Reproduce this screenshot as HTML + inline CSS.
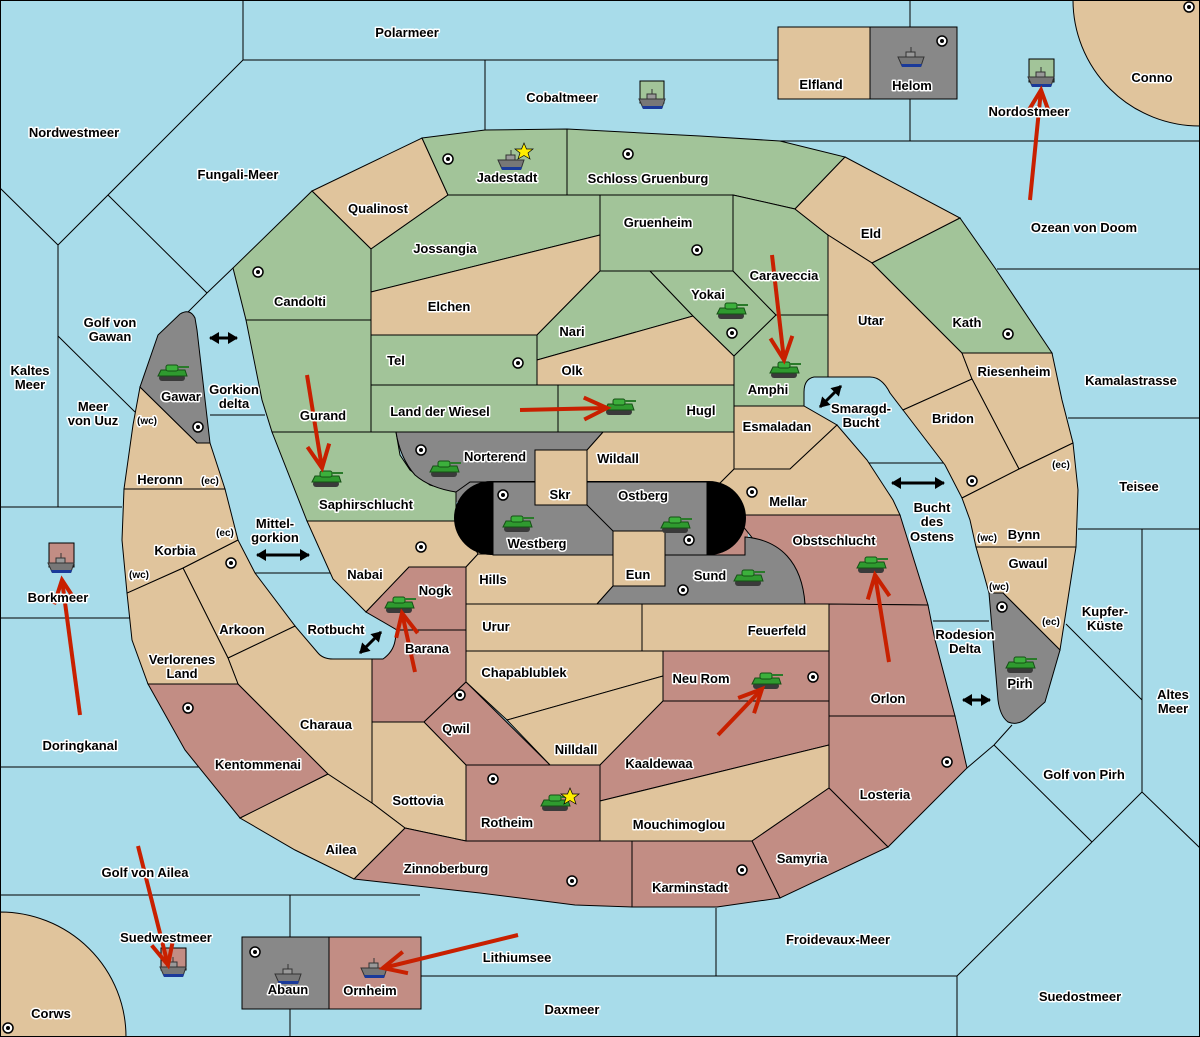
<!DOCTYPE html>
<html><head><meta charset="utf-8"><style>
html,body{margin:0;padding:0;background:#a8dcea}
svg{display:block}
text{font-family:"Liberation Sans",sans-serif;font-weight:bold;font-size:13px;fill:#000;stroke:#fff;stroke-width:3px;paint-order:stroke;stroke-linejoin:round;text-anchor:middle}
text.s{font-size:10px}
.t{fill:#e0c49c}.g{fill:#a2c499}.r{fill:#c28d84}.y{fill:#888}
.t,.g,.r,.y{stroke:#000;stroke-width:1}
line.l{stroke:#000;stroke-width:1}
</style></head><body>
<svg width="1200" height="1037" viewBox="0 0 1200 1037" xmlns="http://www.w3.org/2000/svg">
<defs>
<marker id="ra" markerUnits="userSpaceOnUse" markerWidth="30" markerHeight="30" refX="24" refY="13" orient="auto"><path d="M1,2 L24,13 L1,24" fill="none" stroke="#c82000" stroke-width="4"/></marker>
<marker id="ba" markerUnits="userSpaceOnUse" markerWidth="12" markerHeight="12" refX="9" refY="6" orient="auto-start-reverse"><path d="M0,0 L10,6 L0,12 Z" fill="#000"/></marker>
<g id="tk"><rect x="-14" y="2" width="26" height="6" rx="3" fill="#3a3a3a"/><path d="M-15,3 L-12,-3 L12,-3 L14,3 Z" fill="#2f9a2f" stroke="#155015" stroke-width="1"/><rect x="-7" y="-8" width="12" height="6" rx="2" fill="#3cb03c" stroke="#155015" stroke-width="1"/><rect x="4" y="-7" width="12" height="2" fill="#2a7a2a"/></g>
<g id="sh"><path d="M-13,0 L13,0 L10,9 L-9,9 Z" fill="#777" stroke="#333" stroke-width="1"/><path d="M-10,7 L11,7 L10,10 L-9,10 Z" fill="#1a3a9a"/><rect x="-5" y="-5" width="9" height="5" fill="#999" stroke="#333" stroke-width="1"/><line x1="0" y1="-10" x2="0" y2="-5" stroke="#333"/></g>
<g id="dt"><circle r="5" fill="#fff" stroke="#000" stroke-width="1.5"/><circle r="2" fill="#000"/></g>
</defs>
<rect x="0" y="0" width="1200" height="1037" fill="#a8dcea"/>
<g>
<line class="l" x1="243" y1="0" x2="243" y2="60"/>
<line class="l" x1="243" y1="60" x2="778" y2="60"/>
<line class="l" x1="485" y1="60" x2="485" y2="130"/>
<line class="l" x1="910" y1="0" x2="910" y2="27"/>
<line class="l" x1="910" y1="99" x2="910" y2="141"/>
<line class="l" x1="780" y1="141" x2="1200" y2="141"/>
<line class="l" x1="997" y1="269" x2="1200" y2="269"/>
<line class="l" x1="1068" y1="418" x2="1200" y2="418"/>
<line class="l" x1="1078" y1="529" x2="1200" y2="529"/>
<line class="l" x1="1142" y1="529" x2="1142" y2="792"/>
<line class="l" x1="1066" y1="624" x2="1142" y2="700"/>
<line class="l" x1="1142" y1="792" x2="1200" y2="848"/>
<line class="l" x1="1142" y1="792" x2="1092" y2="842"/>
<line class="l" x1="1092" y1="842" x2="957" y2="976"/>
<line class="l" x1="1092" y1="842" x2="994" y2="745"/>
<line class="l" x1="994" y1="745" x2="1012" y2="725"/>
<line class="l" x1="994" y1="745" x2="967" y2="768"/>
<line class="l" x1="957" y1="976" x2="957" y2="1037"/>
<line class="l" x1="421" y1="976" x2="957" y2="976"/>
<line class="l" x1="716" y1="908" x2="716" y2="976"/>
<line class="l" x1="0" y1="895" x2="420" y2="895"/>
<line class="l" x1="290" y1="895" x2="290" y2="937"/>
<line class="l" x1="290" y1="1009" x2="290" y2="1037"/>
<line class="l" x1="0" y1="767" x2="203" y2="767"/>
<line class="l" x1="0" y1="618" x2="130" y2="618"/>
<line class="l" x1="0" y1="507" x2="122" y2="507"/>
<line class="l" x1="58" y1="245" x2="58" y2="507"/>
<line class="l" x1="58" y1="336" x2="135" y2="412"/>
<line class="l" x1="0" y1="188" x2="58" y2="245"/>
<line class="l" x1="58" y1="245" x2="243" y2="60"/>
<line class="l" x1="108" y1="195" x2="207" y2="293"/>
<line class="l" x1="207" y1="293" x2="233" y2="268"/>
<line class="l" x1="207" y1="293" x2="188" y2="312"/>
<line class="l" x1="210" y1="415" x2="265" y2="415"/>
<line class="l" x1="255" y1="573" x2="332" y2="573"/>
<line class="l" x1="868" y1="463" x2="945" y2="463"/>
<line class="l" x1="933" y1="621" x2="989" y2="621"/>
</g>
<path d="M1073,0 A127,126 0 0 0 1200,126 L1200,0 Z" class="t"/>
<path d="M0,912 A126,125 0 0 1 126,1037 L0,1037 Z" class="t"/>
<rect class="t" x="778" y="27" width="92" height="72"/>
<rect class="y" x="870" y="27" width="87" height="72"/>
<rect class="g" x="640" y="81" width="24" height="22"/>
<rect class="g" x="1029" y="59" width="25" height="23"/>
<rect class="r" x="49" y="543" width="25" height="24"/>
<rect class="r" x="161" y="948" width="25" height="22"/>
<rect class="y" x="242" y="937" width="87" height="72"/>
<rect class="r" x="329" y="937" width="92" height="72"/>
<!-- fillers under pill corners -->
<rect x="452" y="478" width="48" height="24" fill="#888"/>
<rect x="452" y="518" width="48" height="40" fill="#e0c49c"/>
<rect x="700" y="478" width="48" height="38" fill="#e0c49c"/>
<rect x="700" y="516" width="48" height="42" fill="#c28d84"/>
<polygon class="t" points="312,191 422,138 448,195 371,249"/>
<polygon class="g" points="422,138 485,130 567,129 567,195 448,195"/>
<polygon class="g" points="567,129 700,136 780,141 845,157 795,209 733,195 567,195"/>
<polygon class="g" points="312,191 371,249 371,320 246,320 233,268"/>
<polygon class="g" points="246,320 371,320 371,432 272,432 262,400"/>
<polygon class="g" points="272,432 396,432 400,455 410,470 430,485 456,492 456,521 307,521"/>
<polygon class="g" points="371,249 448,195 600,195 600,235 371,292"/>
<polygon class="g" points="600,195 733,195 733,271 600,271"/>
<polygon class="t" points="371,292 600,235 600,271 537,335 371,335"/>
<polygon class="g" points="537,335 600,271 650,271 693,316 537,360"/>
<polygon class="t" points="537,360 693,316 734,356 734,385 537,385"/>
<polygon class="g" points="371,335 537,335 537,385 371,385"/>
<polygon class="g" points="371,385 558,385 558,432 371,432"/>
<polygon class="g" points="558,385 734,385 734,432 558,432"/>
<polygon class="g" points="650,271 733,271 776,315 734,356 693,316"/>
<polygon class="g" points="733,195 795,209 828,235 828,315 776,315 733,271"/>
<path class="g" d="M734,356 L776,315 L828,315 L828,377 L814,377 Q804,379 804,392 L804,406 L734,406 Z"/>
<polygon class="t" points="845,157 960,218 872,263 828,235 795,209"/>
<path class="t" d="M828,235 L872,263 L962,353 L972,379 L903,410 L890,393 Q882,377 870,377 L828,377 Z"/>
<polygon class="g" points="872,263 960,218 995,268 1052,353 962,353"/>
<polygon class="t" points="962,353 1052,353 1062,400 1073,443 1019,469 972,379"/>
<polygon class="t" points="903,410 972,379 1019,469 962,498 945,465"/>
<polygon class="t" points="962,498 1019,469 1073,443 1078,490 1076,547 976,547 970,520"/>
<polygon class="t" points="976,547 1076,547 1060,650 1003,593 989,593 984,575"/>
<path class="y" d="M989,593 L1003,593 L1060,650 L1045,702 L1027,718 Q1018,726 1008,722 Q1000,716 998,700 Z"/>
<polygon class="t" points="734,406 804,406 837,425 790,469 734,469"/>
<polygon class="t" points="720,483 734,469 790,469 837,425 867,460 893,500 900,515 720,515"/>
<polygon class="t" points="603,432 734,432 734,469 720,483 587,483 587,450"/>
<path class="y" d="M396,432 L603,432 L587,450 L535,450 L535,482 L470,482 L456,492 Q430,488 415,475 Q400,458 396,432 Z"/>
<polygon class="t" points="307,521 460,521 478,554 466,567 409,567 366,612 333,579"/>
<polygon class="t" points="466,567 478,554 613,554 613,586 597,604 466,604"/>
<polygon class="r" points="734,515 900,515 928,605 805,604"/>
<path class="y" d="M597,604 L613,586 L665,586 L665,555 L745,555 L745,537 C780,540 802,562 805,604 Z"/>
<polygon class="r" points="409,567 466,567 466,630 397,630 366,612"/>
<path class="r" d="M397,630 L466,630 L466,682 L424,722 L372,722 L372,659 L383,659 Q393,652 395,641 Z"/>
<polygon class="t" points="466,604 642,604 642,651 466,651"/>
<polygon class="t" points="642,604 829,604 829,651 642,651"/>
<polygon class="t" points="466,651 663,651 663,676 507,720 466,682"/>
<polygon class="r" points="663,651 829,651 829,701 663,701"/>
<polygon class="t" points="507,720 663,676 663,701 600,765 550,765"/>
<polygon class="r" points="424,722 466,682 550,765 466,765"/>
<polygon class="t" points="372,722 424,722 466,765 466,841 405,828 372,803"/>
<polygon class="r" points="466,765 600,765 600,841 466,841"/>
<polygon class="r" points="600,765 663,701 829,701 829,745 600,801"/>
<polygon class="t" points="600,801 829,745 829,788 752,841 600,841"/>
<polygon class="r" points="829,604 928,605 935,640 955,716 829,716"/>
<polygon class="r" points="829,716 955,716 967,768 888,847 829,788"/>
<polygon class="r" points="752,841 829,788 888,847 780,898"/>
<polygon class="r" points="632,841 752,841 780,898 717,907 632,907"/>
<polygon class="r" points="405,828 466,841 632,841 632,907 575,905 480,893 354,879"/>
<polygon class="t" points="240,818 328,774 372,803 405,828 354,879 295,850"/>
<polygon class="r" points="148,684 238,684 328,774 240,818 185,750"/>
<path class="t" d="M238,684 L228,658 L295,626 L318,653 Q323,659 333,659 L372,659 L372,803 L328,774 Z"/>
<polygon class="t" points="183,568 238,540 255,573 295,626 228,658"/>
<polygon class="t" points="127,593 183,568 228,658 238,684 148,684 132,640"/>
<polygon class="t" points="124,489 225,489 238,540 183,568 127,593 122,540"/>
<polygon class="t" points="140,387 197,443 210,443 225,489 124,489 133,425"/>
<path class="y" d="M140,387 L158,335 L180,314 Q190,308 195,318 L197,330 L210,443 L197,443 Z"/>
<path d="M491,481 L709,481 A37,37 0 0 1 709,555 L491,555 A37,37 0 0 1 491,481 Z" fill="#000"/>
<rect class="y" x="493" y="482" width="214" height="73"/>
<rect class="t" x="535" y="450" width="52" height="55"/>
<rect class="t" x="613" y="531" width="52" height="55"/>
<line class="l" x1="587" y1="505" x2="613" y2="531"/>
<rect x="0.5" y="0.5" width="1199" height="1036" fill="none" stroke="#000"/>
<g>
<use href="#dt" x="448" y="159"/><use href="#dt" x="628" y="154"/><use href="#dt" x="258" y="272"/><use href="#dt" x="697" y="250"/><use href="#dt" x="518" y="363"/><use href="#dt" x="732" y="333"/><use href="#dt" x="1008" y="334"/><use href="#dt" x="198" y="427"/><use href="#dt" x="421" y="450"/><use href="#dt" x="503" y="495"/><use href="#dt" x="689" y="540"/><use href="#dt" x="752" y="492"/><use href="#dt" x="421" y="547"/><use href="#dt" x="231" y="563"/><use href="#dt" x="683" y="590"/><use href="#dt" x="972" y="481"/><use href="#dt" x="1002" y="607"/><use href="#dt" x="460" y="695"/><use href="#dt" x="188" y="708"/><use href="#dt" x="813" y="677"/><use href="#dt" x="493" y="779"/><use href="#dt" x="947" y="762"/><use href="#dt" x="742" y="870"/><use href="#dt" x="572" y="881"/><use href="#dt" x="942" y="41"/><use href="#dt" x="1189" y="7"/><use href="#dt" x="255" y="952"/><use href="#dt" x="8" y="1028"/>
</g>
<g>
<use href="#tk" x="173" y="373"/><use href="#tk" x="327" y="479"/><use href="#tk" x="620" y="407"/><use href="#tk" x="785" y="370"/><use href="#tk" x="732" y="311"/><use href="#tk" x="445" y="469"/><use href="#tk" x="518" y="524"/><use href="#tk" x="676" y="525"/><use href="#tk" x="749" y="578"/><use href="#tk" x="872" y="565"/><use href="#tk" x="400" y="605"/><use href="#tk" x="767" y="681"/><use href="#tk" x="556" y="803"/><use href="#tk" x="1021" y="665"/>
</g>
<g>
<use href="#sh" x="511" y="160"/><use href="#sh" x="652" y="99"/><use href="#sh" x="911" y="57"/><use href="#sh" x="1041" y="77"/><use href="#sh" x="61" y="563"/><use href="#sh" x="173" y="967"/><use href="#sh" x="288" y="974"/><use href="#sh" x="374" y="968"/>
</g>
<polygon points="524,143 526.5,149 533,149 528,153 530,159 524,155.5 518,159 520,153 515,149 521.5,149" fill="#ffee00" stroke="#000" stroke-width="0.7"/>
<polygon points="570,788 572.5,794 579,794 574,798 576,804 570,800.5 564,804 566,798 561,794 567.5,794" fill="#ffee00" stroke="#000" stroke-width="0.7"/>
<g stroke="#c82000" stroke-width="4" fill="none" marker-end="url(#ra)">
<line x1="1030" y1="200" x2="1041" y2="90"/>
<line x1="80" y1="715" x2="62" y2="580"/>
<line x1="138" y1="846" x2="168" y2="965"/>
<line x1="518" y1="935" x2="383" y2="968"/>
<line x1="307" y1="375" x2="322" y2="468"/>
<line x1="520" y1="410" x2="607" y2="408"/>
<line x1="772" y1="255" x2="784" y2="360"/>
<line x1="415" y1="672" x2="402" y2="613"/>
<line x1="718" y1="735" x2="762" y2="689"/>
<line x1="889" y1="662" x2="875" y2="575"/>
</g>
<g stroke="#000" stroke-width="3" marker-start="url(#ba)" marker-end="url(#ba)">
<line x1="210" y1="338" x2="237" y2="338"/>
<line x1="257" y1="555" x2="309" y2="555"/>
<line x1="360" y1="653" x2="381" y2="632"/>
<line x1="820" y1="407" x2="841" y2="386"/>
<line x1="892" y1="483" x2="944" y2="483"/>
<line x1="963" y1="700" x2="990" y2="700"/>
</g>
<g>
<text x="407" y="37">Polarmeer</text><text x="562" y="102">Cobaltmeer</text><text x="821" y="89">Elfland</text><text x="912" y="90">Helom</text><text x="1152" y="82">Conno</text><text x="1029" y="116">Nordostmeer</text>
<text x="74" y="137">Nordwestmeer</text><text x="238" y="179">Fungali-Meer</text><text x="507" y="182">Jadestadt</text><text x="648" y="183">Schloss Gruenburg</text><text x="378" y="213">Qualinost</text><text x="1084" y="232">Ozean von Doom</text>
<text x="871" y="238">Eld</text><text x="658" y="227">Gruenheim</text><text x="445" y="253">Jossangia</text><text x="784" y="280">Caraveccia</text><text x="708" y="299">Yokai</text><text x="300" y="306">Candolti</text><text x="449" y="311">Elchen</text>
<text x="871" y="325">Utar</text><text x="967" y="327">Kath</text><text x="572" y="336">Nari</text><text x="110" y="327">Golf von</text><text x="110" y="341">Gawan</text><text x="396" y="365">Tel</text><text x="572" y="375">Olk</text><text x="1014" y="376">Riesenheim</text>
<text x="30" y="375">Kaltes</text><text x="30" y="389">Meer</text><text x="1131" y="385">Kamalastrasse</text><text x="768" y="394">Amphi</text><text x="181" y="401">Gawar</text><text x="234" y="394">Gorkion</text><text x="234" y="408">delta</text>
<text x="93" y="411">Meer</text><text x="93" y="425">von Uuz</text><text class="s" x="147" y="424">(wc)</text><text x="440" y="416">Land der Wiesel</text><text x="701" y="415">Hugl</text><text x="323" y="420">Gurand</text><text x="861" y="413">Smaragd-</text><text x="861" y="427">Bucht</text>
<text x="953" y="423">Bridon</text><text x="777" y="431">Esmaladan</text><text x="495" y="461">Norterend</text><text x="618" y="463">Wildall</text><text x="160" y="484">Heronn</text><text class="s" x="210" y="484">(ec)</text><text class="s" x="1061" y="468">(ec)</text><text x="1139" y="491">Teisee</text>
<text x="560" y="499">Skr</text><text x="643" y="500">Ostberg</text><text x="788" y="506">Mellar</text><text x="366" y="509">Saphirschlucht</text><text x="932" y="512">Bucht</text><text x="932" y="526">des</text><text x="932" y="541">Ostens</text>
<text x="275" y="528">Mittel-</text><text x="275" y="542">gorkion</text><text class="s" x="225" y="536">(ec)</text><text x="1024" y="539">Bynn</text><text class="s" x="987" y="541">(wc)</text><text x="834" y="545">Obstschlucht</text><text x="537" y="548">Westberg</text><text x="175" y="555">Korbia</text>
<text x="1028" y="568">Gwaul</text><text x="365" y="579">Nabai</text><text class="s" x="139" y="578">(wc)</text><text x="638" y="579">Eun</text><text x="710" y="580">Sund</text><text x="493" y="584">Hills</text><text class="s" x="999" y="590">(wc)</text><text x="58" y="602">Borkmeer</text><text x="435" y="595">Nogk</text>
<text x="1105" y="616">Kupfer-</text><text x="1105" y="630">Küste</text><text x="496" y="631">Urur</text><text class="s" x="1051" y="625">(ec)</text><text x="777" y="635">Feuerfeld</text><text x="242" y="634">Arkoon</text><text x="336" y="634">Rotbucht</text><text x="965" y="639">Rodesion</text><text x="965" y="653">Delta</text><text x="427" y="653">Barana</text>
<text x="182" y="664">Verlorenes</text><text x="182" y="678">Land</text><text x="524" y="677">Chapablublek</text><text x="701" y="683">Neu Rom</text><text x="1020" y="688">Pirh</text><text x="888" y="703">Orlon</text><text x="1173" y="699">Altes</text><text x="1173" y="713">Meer</text>
<text x="456" y="733">Qwil</text><text x="326" y="729">Charaua</text><text x="80" y="750">Doringkanal</text><text x="576" y="754">Nilldall</text><text x="659" y="768">Kaaldewaa</text><text x="258" y="769">Kentommenai</text><text x="1084" y="779">Golf von Pirh</text><text x="885" y="799">Losteria</text>
<text x="418" y="805">Sottovia</text><text x="507" y="827">Rotheim</text><text x="679" y="829">Mouchimoglou</text><text x="341" y="854">Ailea</text><text x="802" y="863">Samyria</text><text x="446" y="873">Zinnoberburg</text><text x="145" y="877">Golf von Ailea</text><text x="690" y="892">Karminstadt</text>
<text x="838" y="944">Froidevaux-Meer</text><text x="166" y="942">Suedwestmeer</text><text x="517" y="962">Lithiumsee</text><text x="288" y="994">Abaun</text><text x="370" y="995">Ornheim</text><text x="1080" y="1001">Suedostmeer</text><text x="572" y="1014">Daxmeer</text><text x="51" y="1018">Corws</text>
</g>
</svg>
</body></html>
